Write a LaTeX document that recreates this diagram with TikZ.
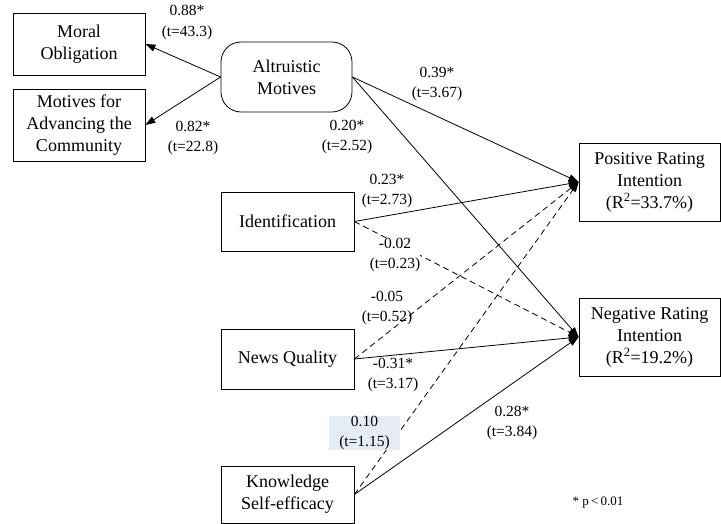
\documentclass[tikz,border=0pt]{standalone}
\usepackage{fontspec}
\setmainfont{Liberation Serif}
\usetikzlibrary{arrows.meta}
\definecolor{hl}{RGB}{230,236,246}
\begin{document}
\begin{tikzpicture}[x=1pt,y=-1pt,
  box/.style={draw, line width=0.8pt, align=center, inner sep=0pt,
    font=\fontsize{18}{22}\selectfont},
  lbl/.style={align=center, inner sep=0pt, font=\fontsize{15.5}{20.5}\selectfont},
  arr/.style={line width=0.8pt, -{Triangle[length=10pt,width=7pt]}},
  dsh/.style={arr, dash pattern=on 6pt off 4pt}]
\useasboundingbox (0,0) rectangle (721,524);
% boxes
\node[box, minimum width=132pt, minimum height=62pt] (moral) at (79,44) {Moral\\Obligation};
\node[box, minimum width=132pt, minimum height=72pt] (motiv) at (79,125) {Motives for\\Advancing the\\Community};
\node[box, rounded corners=20pt, minimum width=131pt, minimum height=70pt] (alt) at (286.5,77) {Altruistic\\Motives};
\node[box, minimum width=133pt, minimum height=59pt] (ident) at (287.5,221.5) {Identification};
\node[box, minimum width=133pt, minimum height=60pt] (news) at (287.5,359) {News Quality};
\node[box, minimum width=133pt, minimum height=57pt] (know) at (287.5,494.5) {Knowledge\\Self-efficacy};
\node[box, minimum width=141pt, minimum height=78pt] (pos) at (649.5,182) {Positive Rating\\Intention\\(R\textsuperscript{2}=33.7\%)};
\node[box, minimum width=141pt, minimum height=78pt] (neg) at (649.5,337) {Negative Rating\\Intention\\(R\textsuperscript{2}=19.2\%)};
% connectors
\draw[arr] (alt.west) -- (moral.east);
\draw[arr] (alt.west) -- (motiv.east);
\draw[arr] (alt.east) -- (pos.west);
\draw[arr] (alt.east) -- (neg.west);
\draw[arr] (ident.east) -- (pos.west);
\draw[dsh] (ident.east) -- (neg.west);
\draw[dsh] (news.east) -- (pos.west);
\draw[arr] (news.east) -- (neg.west);
\draw[dsh] (know.east) -- (pos.west);
\draw[arr] (know.east) -- (neg.west);
% labels
\node[lbl] (l1) at (187,22.5) {0.88*\\(t=43.3)};
\node[lbl] (l2) at (193,138) {0.82*\\(t=22.8)};
\node[lbl] (l3) at (437,84) {0.39*\\(t=3.67)};
\node[lbl] (l4) at (347,137) {0.20*\\(t=2.52)};
\node[lbl] (l5) at (387,191) {0.23*\\(t=2.73)};
\node[lbl, fill=white] (l6) at (395,255) {-0.02\\(t=0.23)};
\node[lbl] (l7) at (387,308) {-0.05\\(t=0.52)};
\node[lbl] (l8) at (393,375) {-0.31*\\(t=3.17)};
\node[lbl, fill=hl, minimum width=71pt, minimum height=30pt] (l9) at (364.5,433) {0.10\\(t=1.15)};
\node[lbl] (l10) at (512,423) {0.28*\\(t=3.84)};
\node[lbl, font=\fontsize{13}{15}\selectfont] (note) at (598,503) {* p\,<\,0.01};
\end{tikzpicture}
\end{document}
